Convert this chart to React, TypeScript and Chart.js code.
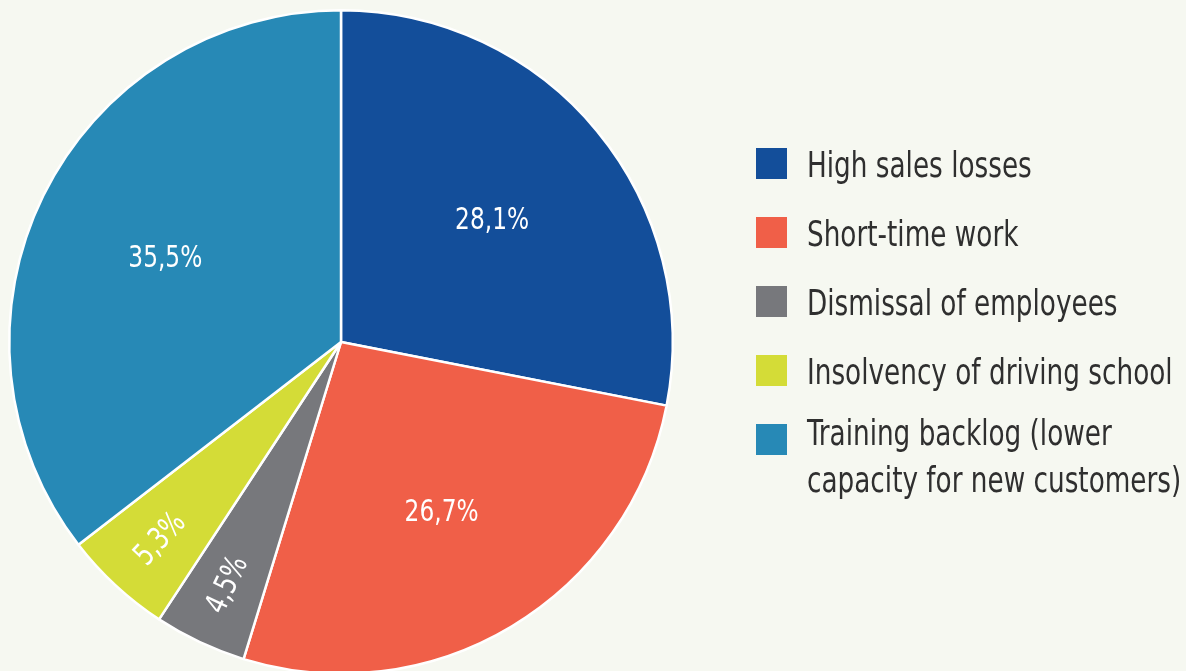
import React, { useEffect, useRef } from "react";
import { Chart, registerables } from "chart.js";

Chart.register(...registerables);

const categories = [
  "High sales losses",
  "Short-time work",
  "Dismissal of employees",
  "Insolvency of driving school",
  "Training backlog (lower capacity for new customers)",
];
const legendLines = [
  ["High sales losses"],
  ["Short-time work"],
  ["Dismissal of employees"],
  ["Insolvency of driving school"],
  ["Training backlog (lower", "capacity for new customers)"],
];
const shares = [28.1, 26.7, 4.5, 5.3, 35.5];
const colors = ["#134e9a", "#f05f48", "#77787c", "#d4dc37", "#2789b6"];

const BG = "#f6f8f1";
const FONT = "'DejaVu Sans Condensed', 'Liberation Sans Narrow', sans-serif";
const NARROW = 0.835;

const fmt = (v: number) => v.toFixed(1).replace(".", ",") + "%";

const labelPlugin = {
  id: "sliceLabels",
  afterDatasetsDraw(chart: any) {
    const ctx = chart.ctx;
    const meta = chart.getDatasetMeta(0);
    meta.data.forEach((arc: any, i: number) => {
      const p = arc.getProps(["x", "y", "startAngle", "endAngle", "outerRadius"], true);
      const mid = (p.startAngle + p.endAngle) / 2;
      const small = shares[i] < 10;
      const r = p.outerRadius * (small ? 0.8 : 0.59);
      const px = p.x + Math.cos(mid) * r;
      const py = p.y + Math.sin(mid) * r + 3;
      ctx.save();
      ctx.translate(px, py);
      if (small) ctx.rotate(mid + Math.PI);
      ctx.scale(NARROW, 1);
      ctx.font = `31px ${FONT}`;
      ctx.fillStyle = "#ffffff";
      ctx.textAlign = "center";
      ctx.textBaseline = "middle";
      ctx.fillText(fmt(shares[i]), 0, 0);
      ctx.restore();
    });
  },
};

const legendPlugin = {
  id: "sideLegend",
  afterDraw(chart: any) {
    const ctx = chart.ctx;
    const boxX = 756;
    const boxSize = 31;
    const textX = 807;
    const rowTop = 148;
    const rowStep = 69;
    legendLines.forEach((lines, i) => {
      const top = rowTop + i * rowStep;
      ctx.save();
      ctx.fillStyle = colors[i];
      ctx.fillRect(boxX, top, boxSize, boxSize);
      ctx.restore();
      const firstBaseline = lines.length > 1 ? top + 21 : top + 29;
      lines.forEach((ln, j) => {
        ctx.save();
        ctx.translate(textX, firstBaseline + j * 47);
        ctx.scale(NARROW, 1);
        ctx.font = `35px ${FONT}`;
        ctx.fillStyle = "#2f2f2f";
        ctx.textAlign = "left";
        ctx.textBaseline = "alphabetic";
        ctx.fillText(ln, 0, 0);
        ctx.restore();
      });
    });
  },
};

export default function App() {
  const ref = useRef<HTMLCanvasElement | null>(null);
  useEffect(() => {
    if (!ref.current) return;
    const chart = new Chart(ref.current, {
      type: "pie",
      data: {
        labels: categories,
        datasets: [
          {
            data: shares,
            backgroundColor: colors,
            borderColor: "#ffffff",
            borderWidth: 2.5,
          },
        ],
      },
      options: {
        responsive: false,
        animation: false,
        layout: { padding: { left: 8, top: 9, right: 512, bottom: 11 } },
        plugins: {
          legend: { display: false },
          tooltip: { enabled: false },
        },
      },
      plugins: [labelPlugin, legendPlugin],
    });
    return () => chart.destroy();
  }, []);
  return (
    <div
      style={{
        position: "fixed",
        left: 0,
        top: 0,
        width: 1186,
        height: 671,
        overflow: "hidden",
        background: BG,
      }}
    >
      <canvas ref={ref} width={1186} height={686} style={{ display: "block" }} />
    </div>
  );
}
